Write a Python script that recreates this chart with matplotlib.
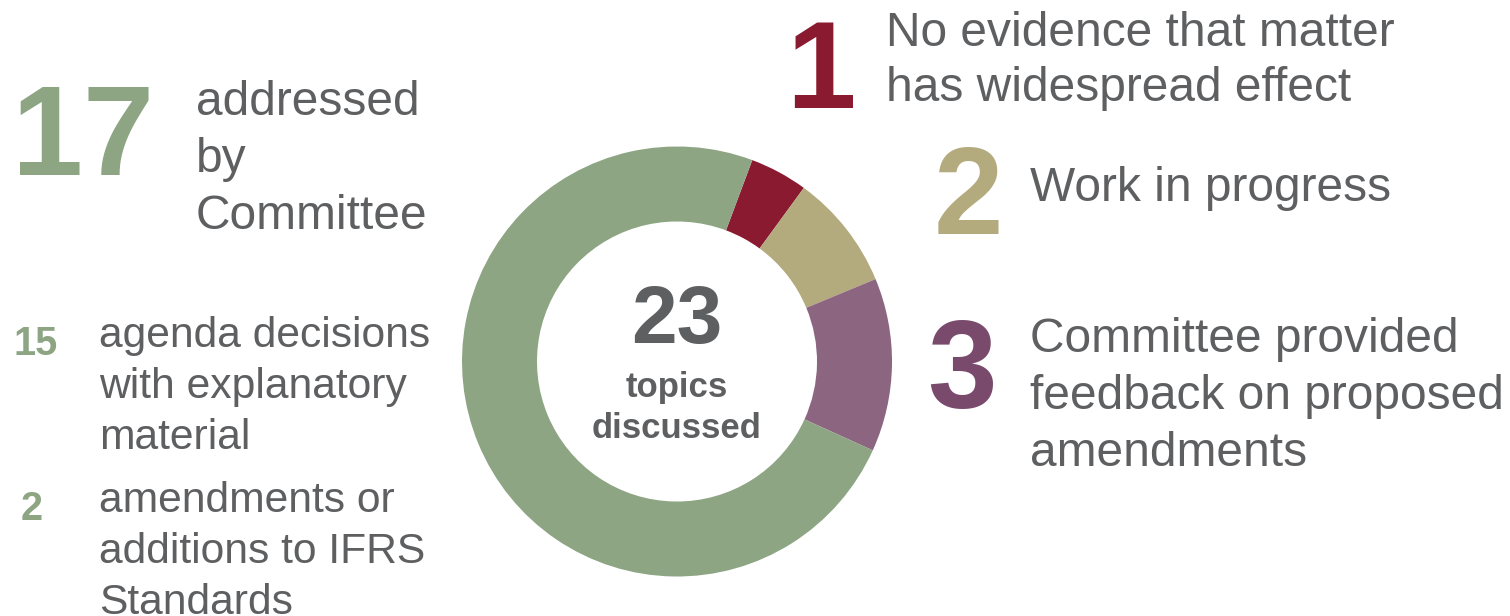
import matplotlib.pyplot as plt

# slices of the donut (clockwise from the top-right)
labels = ["No evidence that matter has widespread effect", "Work in progress",
          "Committee provided feedback on proposed amendments", "addressed by Committee"]
counts = [1, 2, 3, 17]
slice_colors = ["#8A1A2F", "#B3AA7E", "#8C6580", "#8DA583"]
total_label = "23"

# breakdown of the 17
sub_counts = ["15", "2"]
sub_labels = [["agenda decisions", "with explanatory", "material"],
              ["amendments or", "additions to IFRS", "Standards"]]

GRAY = "#5E5F61"
W, H = 1510, 616
plt.rcParams['font.family'] = ['Liberation Sans', 'DejaVu Sans']

fig = plt.figure(figsize=(W / 100, H / 100), dpi=100)
ax = fig.add_axes([0, 0, 1, 1])

cx, cy, r_out, r_in = 677, H - 361.5, 215, 140
ax.pie(counts, colors=slice_colors, startangle=69.5, counterclock=False,
       radius=r_out, center=(cx, cy),
       wedgeprops=dict(width=r_out - r_in, linewidth=0))
ax.set_xlim(0, W)
ax.set_ylim(0, H)
ax.set_aspect('auto')
ax.axis('off')


def txt(x, y, s, size, color=GRAY, weight='normal', ha='left'):
    # y given in pixels from the top
    ax.text(x, H - y, s, fontsize=size, color=color, fontweight=weight,
            ha=ha, va='baseline')


# centre label
txt(cx, 343, total_label, 59, weight='bold', ha='center')
txt(cx, 397, "topics", 25, weight='bold', ha='center')
txt(cx, 438, "discussed", 25, weight='bold', ha='center')

# left block
txt(12, 175, str(counts[3]), 92, color=slice_colors[3], weight='bold')
for i, line in enumerate(["addressed", "by", "Committee"]):
    txt(196, 115 + i * 57, line, 34.5)

for n, lines, nx, y0 in zip(sub_counts, sub_labels, [36, 32], [347, 512]):
    txt(nx, y0 + 8, n, 28.5, color=slice_colors[3], weight='bold', ha='center')
    for i, line in enumerate(lines):
        txt(99, y0 + i * 51, line, 30.7)

# right block
txt(786, 108, str(counts[0]), 90, color=slice_colors[0], weight='bold')
txt(886, 46, "No evidence that matter", 34.5)
txt(886, 101, "has widespread effect", 34.5)

txt(934, 234, str(counts[1]), 90, color=slice_colors[1], weight='bold')
txt(1030, 201, "Work in progress", 34.5)

txt(927, 408, str(counts[2]), 90, color="#7A4A6C", weight='bold')
for i, line in enumerate(["Committee provided", "feedback on proposed", "amendments"]):
    txt(1030, 352 + i * 57, line, 34.5)

fig.savefig("out.png", dpi=100)
